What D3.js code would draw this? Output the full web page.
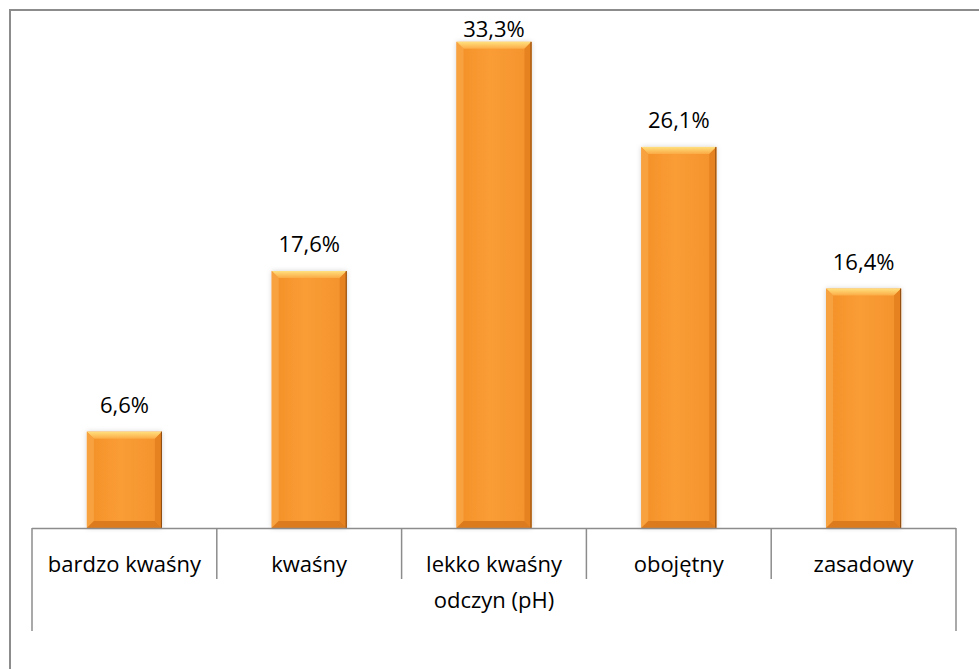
<!DOCTYPE html>
<html>
<head>
<meta charset="utf-8">
<script src="https://cdn.jsdelivr.net/npm/d3@7"></script>
<style>
  html, body { margin: 0; padding: 0; background: #fff; overflow: hidden; }
  svg { display: block; }
  text { font-family: "Open Sans", Lato, sans-serif; fill: #000; }
</style>
</head>
<body>
<svg id="chart" width="979" height="669"></svg>
<script>
// values (percent of samples)
const categories = ['bardzo kwaśny', 'kwaśny', 'lekko kwaśny', 'obojętny', 'zasadowy']
const values = [6.6, 17.6, 33.3, 26.1, 16.4]
const valueLabels = ['6,6%', '17,6%', '33,3%', '26,1%', '16,4%']
const groupLabel = 'odczyn (pH)'
const yMax = 35

const svg = d3.select('#chart')
const left = 32, right = 956, axisY = 528, plotTop = 17
const fontSize = 22

// outer chart frame: only its top and left sides fall inside the picture
svg.append('path')
    .attr('d', 'M10,669V10H979')
    .attr('fill', 'none')
    .attr('stroke', '#8c8c8c')
    .attr('stroke-width', 2)

const x = d3.scaleBand()
    .domain(categories)
    .range([left, right])
    .padding(0)

const y = d3.scaleLinear()
    .domain([0, yMax])
    .range([axisY, plotTop])

const barFrac = 0.406

// gradients for the bevelled bars
const defs = svg.append('defs')
const body = defs.append('linearGradient').attr('id', 'body').attr('x1', 0).attr('x2', 1).attr('y1', 0).attr('y2', 0)
body.append('stop').attr('offset', '0%').attr('stop-color', '#f39026')
body.append('stop').attr('offset', '45%').attr('stop-color', '#fa9d36')
body.append('stop').attr('offset', '100%').attr('stop-color', '#f3922b')
const topBevel = defs.append('linearGradient').attr('id', 'topBevel').attr('x1', 0).attr('x2', 0).attr('y1', 0).attr('y2', 1)
topBevel.append('stop').attr('offset', '0%').attr('stop-color', '#ffe07e')
topBevel.append('stop').attr('offset', '100%').attr('stop-color', '#fbab45')
const shadow = defs.append('filter').attr('id', 'shadow').attr('x', '-20%').attr('y', '-10%').attr('width', '140%').attr('height', '120%')
shadow.append('feDropShadow').attr('dx', 0).attr('dy', 0).attr('stdDeviation', 2.5)
    .attr('flood-color', '#000').attr('flood-opacity', 0.18)

const bars = svg.append('g').attr('class', 'bars')
    .selectAll('g')
    .data(categories)
    .enter()
    .append('g')

const bev = 7
bars.each(function (d, i) {
    const g = d3.select(this)
    const bw = x.bandwidth() * barFrac
    const x0 = x(d) + (x.bandwidth() - bw) / 2
    const x1 = x0 + bw
    const y0 = y(values[i])
    const y1 = y(0)
    g.append('rect')
        .attr('x', x0).attr('y', y0)
        .attr('width', bw).attr('height', y1 - y0)
        .attr('fill', 'url(#body)')
        .attr('filter', 'url(#shadow)')
    // top bevel
    g.append('path')
        .attr('d', `M${x0},${y0}L${x1},${y0}L${x1 - bev},${y0 + bev}L${x0 + bev},${y0 + bev}Z`)
        .attr('fill', 'url(#topBevel)')
    // left bevel
    g.append('path')
        .attr('d', `M${x0},${y0}L${x0 + bev},${y0 + bev}L${x0 + bev},${y1 - bev}L${x0},${y1}Z`)
        .attr('fill', '#f7a442').attr('opacity', 0.9)
    // right bevel
    g.append('path')
        .attr('d', `M${x1},${y0}L${x1 - bev},${y0 + bev}L${x1 - bev},${y1 - bev}L${x1},${y1}Z`)
        .attr('fill', '#e6821f')
    // bottom bevel
    g.append('path')
        .attr('d', `M${x0},${y1}L${x0 + bev},${y1 - bev}L${x1 - bev},${y1 - bev}L${x1},${y1}Z`)
        .attr('fill', '#dc7b1e')
    // dark right edge
    g.append('line')
        .attr('x1', x1 - 0.5).attr('x2', x1 - 0.5)
        .attr('y1', y0).attr('y2', y1)
        .attr('stroke', '#8a4a12').attr('stroke-width', 1)
    // value label
    g.append('text')
        .attr('x', x0 + bw / 2)
        .attr('y', Math.max(y0 - 19, 37))
        .attr('text-anchor', 'middle')
        .attr('font-size', fontSize)
        .text(valueLabels[i])
})

// category axis
const axis = svg.append('g').attr('class', 'axis')
axis.append('line')
    .attr('x1', left).attr('x2', right)
    .attr('y1', axisY + 0.5).attr('y2', axisY + 0.5)
    .attr('stroke', '#8c8c8c').attr('stroke-width', 1.5)

const edges = categories.map(d => x(d)).concat([right])
axis.selectAll('line.tick')
    .data(edges)
    .enter()
    .append('line')
    .attr('class', 'tick')
    .attr('x1', d => d).attr('x2', d => d)
    .attr('y1', axisY)
    .attr('y2', (d, i) => (i === 0 || i === edges.length - 1) ? 631 : 579)
    .attr('stroke', '#8c8c8c').attr('stroke-width', 1.5)

axis.selectAll('text.cat')
    .data(categories)
    .enter()
    .append('text')
    .attr('class', 'cat')
    .attr('x', d => x(d) + x.bandwidth() / 2)
    .attr('y', 572)
    .attr('text-anchor', 'middle')
    .attr('font-size', fontSize)
    .text(d => d)

axis.append('text')
    .attr('x', (left + right) / 2)
    .attr('y', 608)
    .attr('text-anchor', 'middle')
    .attr('font-size', fontSize)
    .text(groupLabel)
</script>
</body>
</html>
